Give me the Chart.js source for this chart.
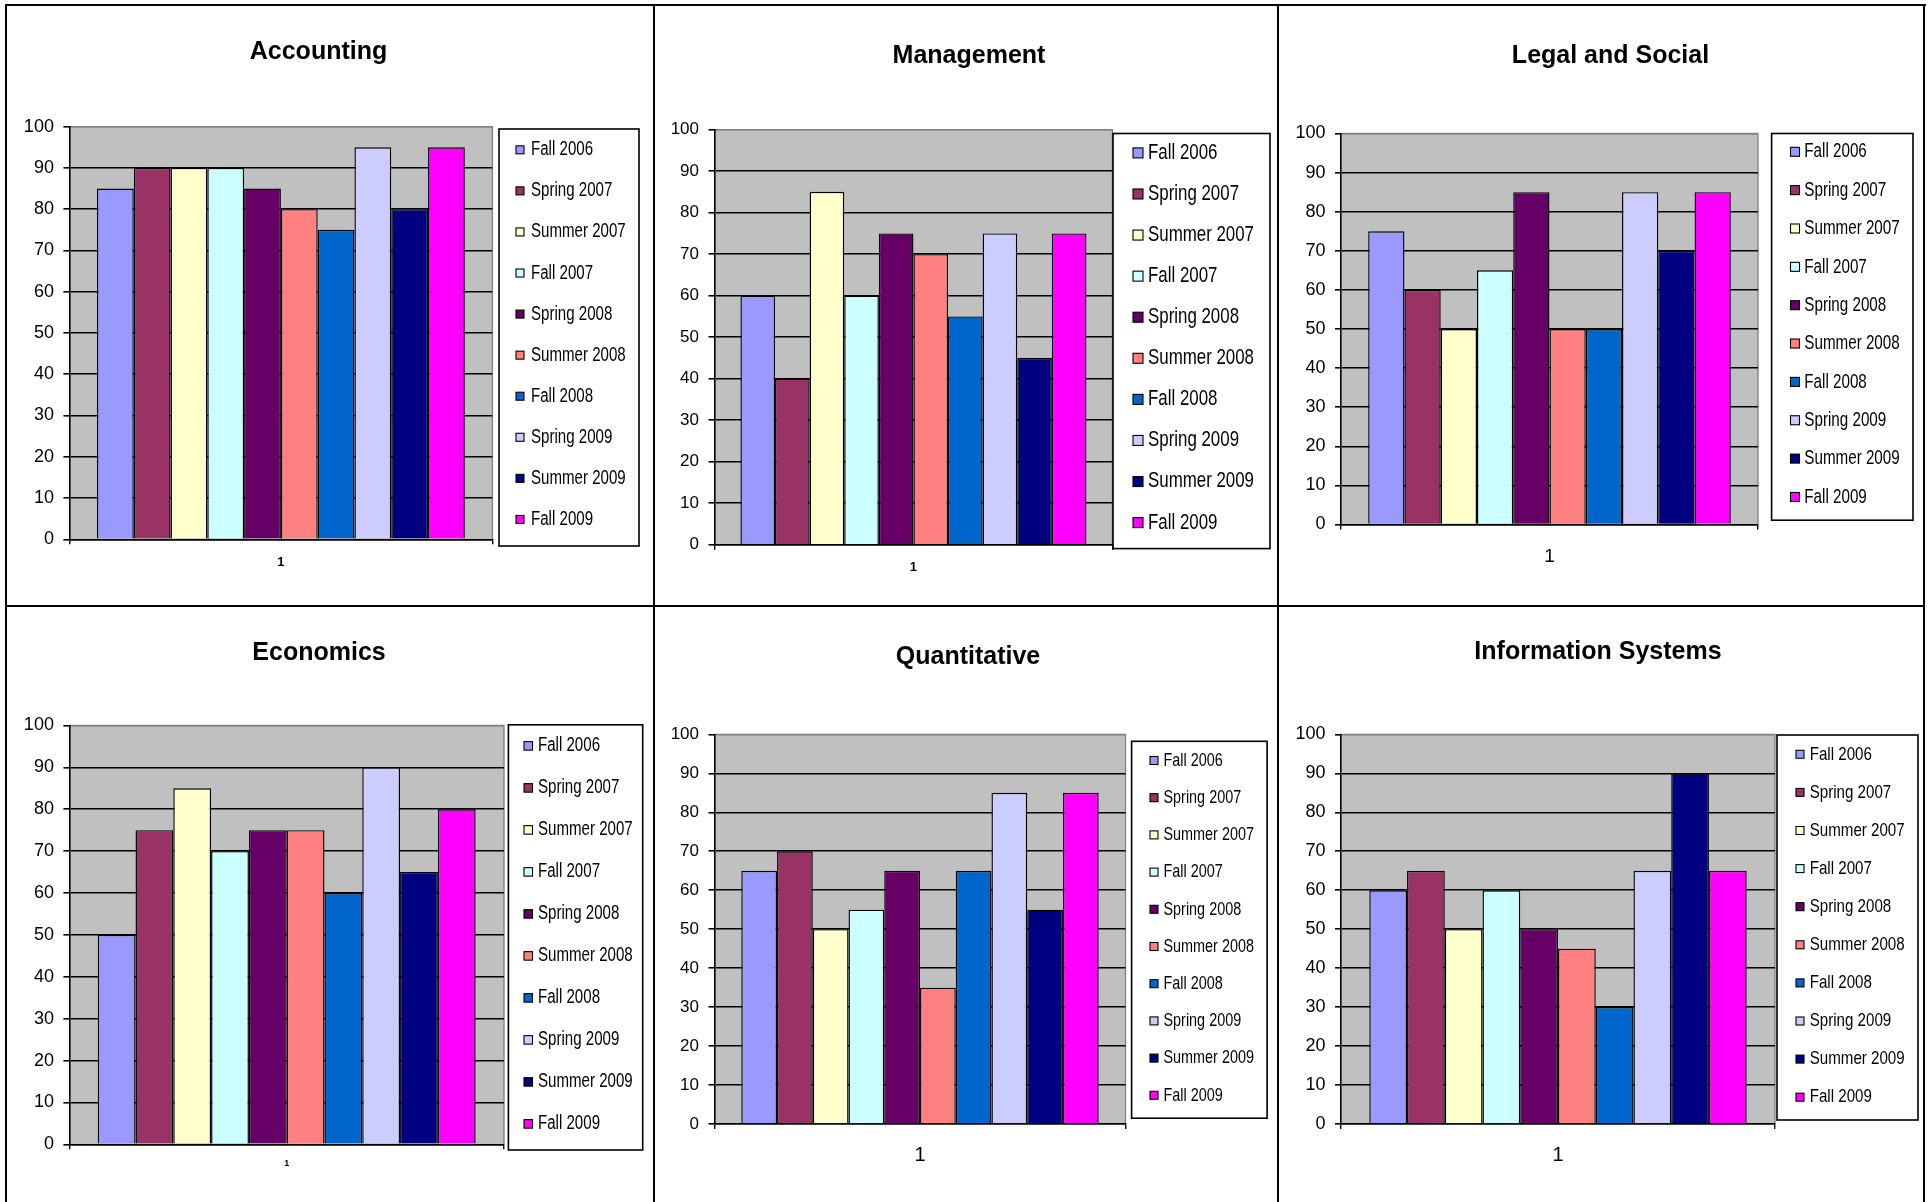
<!DOCTYPE html>
<html>
<head>
<meta charset="utf-8">
<script src="https://cdn.jsdelivr.net/npm/chart.js@4.4.1/dist/chart.umd.min.js"></script>
<style>
html,body{margin:0;padding:0;background:#fff;}
#page{position:relative;width:1931px;height:1202px;overflow:hidden;background:#fff;}
#page canvas{position:absolute;}
.ln{position:absolute;background:#000;z-index:5;}
</style>
</head>
<body>
<div id="page"></div>
<script>
// ---------------- DATA ----------------
const semesters = ['Fall 2006','Spring 2007','Summer 2007','Fall 2007','Spring 2008','Summer 2008','Fall 2008','Spring 2009','Summer 2009','Fall 2009'];
const categories = ['1'];
const yTicks = [0,10,20,30,40,50,60,70,80,90,100];
const panelTitles = ['Accounting','Management','Legal and Social','Economics','Quantitative','Information Systems'];
const accounting   = [85,90,90,90,85,80,75,95,80,95];
const management   = [60,40,85,60,75,70,55,75,45,75];
const legalSocial  = [75,60,50,65,85,50,50,85,70,85];
const economics    = [50,75,85,70,75,75,60,90,65,80];
const quantitative = [65,70,50,55,65,35,65,85,55,85];
const infoSystems  = [60,65,50,60,50,45,30,65,90,65];
const panelValues = [accounting, management, legalSocial, economics, quantitative, infoSystems];

// ---------------- STYLE / LAYOUT ----------------
const seriesColors = ['#9999FF','#993366','#FFFFCC','#CCFFFF','#660066','#FF8080','#0066CC','#CCCCFF','#000080','#FF00FF'];
const FONT = '"Liberation Sans", Arial, Helvetica, sans-serif';
Chart.defaults.font.family = FONT;
Chart.defaults.color = '#000';

// canvas l/r are chosen so that the (full width) title is centred where the reference puts it
const layouts = [
  {canvas:{l:-4,r:641,t:7,h:597}, plot:{l:69.4,r:492.4,t:126.7,b:539.3}, titleCy:52.5, yFont:18, xFont:{size:13,weight:'bold'}, xPad:10,
   legend:{x1:499,x2:639,y1:129,y2:546,y0:149.8,step:41.07,sqX:516,sq:8,textX:531,size:20,sx:0.754}},
  {canvas:{l:656,r:1282,t:7,h:597}, plot:{l:714.5,r:1112.4,t:129.6,b:544.7}, titleCy:56.5, yFont:17, xFont:{size:13,weight:'bold'}, xPad:10,
   legend:{x1:1113,x2:1270,y1:133.5,y2:548.6,y0:152.9,step:41.08,sqX:1133,sq:10,textX:1148,size:21.5,sx:0.785}},
  {canvas:{l:1288,r:1933,t:7,h:597}, plot:{l:1341,r:1758,t:133.5,b:524.5}, titleCy:55.8, yFont:18, xFont:{size:19,weight:'normal'}, xPad:15.5,
   legend:{x1:1771.6,x2:1913,y1:133.5,y2:520.2,y0:151.8,step:38.35,sqX:1790.5,sq:9,textX:1804.3,size:20.5,sx:0.741}},
  {canvas:{l:-7,r:645,t:608,h:594}, plot:{l:69.4,r:504,t:725.5,b:1144.3}, titleCy:653, yFont:18, xFont:{size:9,weight:'bold'}, xPad:9,
   legend:{x1:508.4,x2:642.7,y1:724.8,y2:1150,y0:745.9,step:42,sqX:524,sq:8.5,textX:538,size:19.5,sx:0.773}},
  {canvas:{l:657,r:1279,t:608,h:594}, plot:{l:714.5,r:1125.5,t:734.4,b:1124}, titleCy:656.8, yFont:17, xFont:{size:20,weight:'normal'}, xPad:14.7,
   legend:{x1:1131.6,x2:1267.1,y1:741.3,y2:1118.2,y0:760.5,step:37.2,sqX:1150,sq:8,textX:1163.5,size:19,sx:0.758}},
  {canvas:{l:1276,r:1920,t:608,h:594}, plot:{l:1341,r:1775,t:734.4,b:1124}, titleCy:652.4, yFont:18, xFont:{size:20,weight:'normal'}, xPad:14.7,
   legend:{x1:1777,x2:1918,y1:735,y2:1120,y0:754.3,step:38.1,sqX:1796,sq:8,textX:1809.7,size:19,sx:0.796}}
];

// plot-area background (Excel grey) and grey frame
const plotBg = {
  id:'plotBg',
  beforeDraw(chart){
    const a = chart.chartArea, c = chart.ctx;
    c.save();
    c.fillStyle = '#C0C0C0';
    c.fillRect(a.left, a.top, a.right - a.left, a.bottom - a.top);
    c.strokeStyle = '#808080'; c.lineWidth = 1.3;
    c.beginPath();
    c.moveTo(a.left, a.top); c.lineTo(a.right, a.top); c.lineTo(a.right, a.bottom);
    c.stroke();
    c.restore();
  }
};

// boxed legend in the Excel style, built from the chart's datasets
const boxLegend = {
  id:'boxLegend',
  afterDraw(chart, args, o){
    const c = chart.ctx;
    c.save();
    c.strokeStyle = '#000'; c.lineWidth = 1.6;
    c.strokeRect(o.x1, o.y1, o.x2 - o.x1, o.y2 - o.y1);
    chart.data.datasets.forEach((ds, i) => {
      const cy = o.y0 + i * o.step;
      c.fillStyle = ds.backgroundColor;
      c.fillRect(o.sqX, cy - o.sq/2, o.sq, o.sq);
      c.lineWidth = 1.1; c.strokeStyle = '#000';
      c.strokeRect(o.sqX, cy - o.sq/2, o.sq, o.sq);
      c.save();
      c.translate(o.textX, cy);
      c.scale(o.sx, 1);
      c.font = o.size + 'px ' + FONT;
      c.textBaseline = 'middle'; c.textAlign = 'left';
      c.fillStyle = '#000';
      c.fillText(ds.label, 0, 0);
      c.restore();
    });
    c.restore();
  }
};

const page = document.getElementById('page');

function buildPanel(p, values, title){
  const L = p.canvas.l, T = p.canvas.t;
  const cw = p.canvas.r - p.canvas.l, ch = p.canvas.h;
  const cv = document.createElement('canvas');
  cv.width = cw; cv.height = ch;
  cv.style.left = L + 'px'; cv.style.top = T + 'px';
  page.appendChild(cv);

  const titleSize = 25, titleLH = titleSize * 1.2;
  const tPadTop = p.titleCy - T - titleLH / 2;
  const tPadBottom = p.plot.t - T - tPadTop - titleLH;
  const X_H = 40;
  const yW = p.plot.l - L;
  const spacerW = p.canvas.r - p.plot.r;   // room kept for the boxed legend
  const padB = ch - (p.plot.b - T) - X_H;
  const lg = p.legend;

  new Chart(cv, {
    type:'bar',
    data:{
      labels: categories,
      datasets: semesters.map((s, i) => ({
        label: s,
        data: [values[i]],
        backgroundColor: seriesColors[i],
        borderColor: '#000',
        borderWidth: 1.4,
        yAxisID: 'y'
      }))
    },
    options:{
      responsive:false,
      animation:false,
      devicePixelRatio:1,
      events:[],
      datasets:{bar:{categoryPercentage:10/11.5, barPercentage:1}},
      layout:{padding:{left:0, right:0, top:0, bottom:padB}},
      plugins:{
        legend:{display:false},
        tooltip:{enabled:false},
        title:{display:true, text:title, color:'#000',
               font:{family:FONT, size:titleSize, weight:'bold', lineHeight:1.2},
               padding:{top:tPadTop, bottom:tPadBottom}},
        boxLegend:{
          x1:lg.x1 - L, x2:lg.x2 - L, y1:lg.y1 - T, y2:lg.y2 - T,
          y0:lg.y0 - T, step:lg.step, sqX:lg.sqX - L, sq:lg.sq,
          textX:lg.textX - L, size:lg.size, sx:lg.sx
        }
      },
      scales:{
        x:{
          grid:{display:true, drawOnChartArea:false, drawTicks:true, tickLength:5, color:'#000', lineWidth:1.4, offset:true},
          border:{display:true, color:'#000', width:1.6},
          ticks:{font:{family:FONT, size:p.xFont.size, weight:p.xFont.weight}, color:'#000', padding:p.xPad, maxRotation:0},
          afterFit(s){ s.height = X_H; }
        },
        y:{
          min:0, max:100,
          afterBuildTicks(s){ s.ticks = yTicks.map(v => ({value:v})); },
          ticks:{font:{family:FONT, size:p.yFont}, color:'#000', padding:9.5},
          grid:{color:(ctx) => (ctx.tick && ctx.tick.value === 100) ? '#808080' : '#000',
                lineWidth:1.6, tickLength:6, tickColor:'#000', drawTicks:true},
          border:{display:true, color:'#000', width:1.6},
          afterFit(s){ s.width = yW; }
        },
        legendSpace:{
          type:'linear', position:'right', display:true,
          grid:{display:false, drawTicks:false}, ticks:{display:false}, border:{display:false},
          afterFit(s){ s.width = spacerW; }
        }
      }
    },
    plugins:[plotBg, boxLegend]
  });
}

layouts.forEach((p, i) => buildPanel(p, panelValues[i], panelTitles[i]));

// frame lines between the six panels
function line(x, y, w, h){
  const d = document.createElement('div');
  d.className = 'ln';
  d.style.left = x + 'px'; d.style.top = y + 'px';
  d.style.width = w + 'px'; d.style.height = h + 'px';
  page.appendChild(d);
}
line(5, 4, 1921, 2);      // top
line(5, 4, 2, 1198);      // left
line(1923, 4, 2, 1198);   // right
line(653, 4, 2, 1198);    // divider 1
line(1277, 4, 2, 1198);   // divider 2
line(5, 605, 1920, 2);    // middle row divider
</script>
</body>
</html>
